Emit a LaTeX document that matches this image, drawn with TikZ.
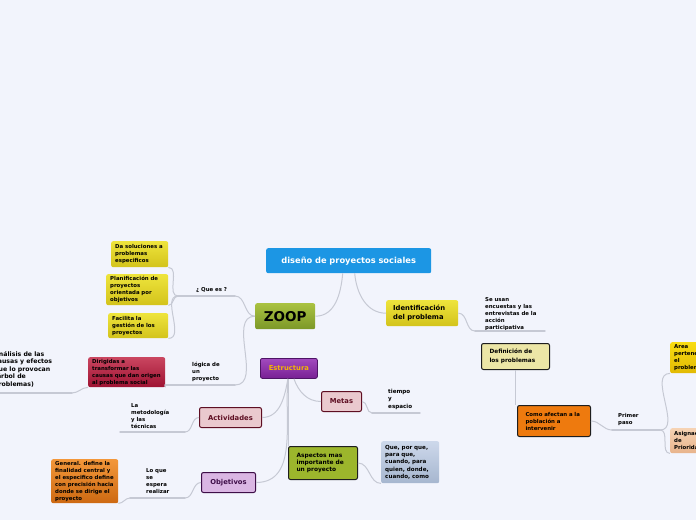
\documentclass[tikz,border=0pt]{standalone}
\usepackage{fontspec}
\setmainfont{DejaVu Sans}
\usetikzlibrary{positioning}

\definecolor{paper}{HTML}{F2F4FC}
\definecolor{linkgrey}{HTML}{C6C9D4}
\definecolor{rootblue}{HTML}{1C96E4}
\definecolor{zooptop}{HTML}{AAC241}
\definecolor{zoopbot}{HTML}{7C9828}
\definecolor{ytop}{HTML}{EEE43C}
\definecolor{ybot}{HTML}{D3C31B}
\definecolor{goldtop}{HTML}{F8DC12}
\definecolor{goldbot}{HTML}{E2BA04}
\definecolor{paleolive}{HTML}{ECE6A6}
\definecolor{orangebox}{HTML}{EE7A0E}
\definecolor{peachtop}{HTML}{F6D3B4}
\definecolor{peachbot}{HTML}{E8B38B}
\definecolor{redtop}{HTML}{CA4660}
\definecolor{redbot}{HTML}{9E1232}
\definecolor{purptop}{HTML}{A24ABE}
\definecolor{purpbot}{HTML}{782094}
\definecolor{purpline}{HTML}{4E1466}
\definecolor{goldtext}{HTML}{F2B705}
\definecolor{pinkfill}{HTML}{EAC9CE}
\definecolor{wine}{HTML}{5E0E22}
\definecolor{lavfill}{HTML}{DAB6E3}
\definecolor{plum}{HTML}{3E0E48}
\definecolor{olivebox}{HTML}{9CB62C}
\definecolor{darkline}{HTML}{1E1E1E}
\definecolor{steeltop}{HTML}{CDD8EB}
\definecolor{steelbot}{HTML}{A6B6CF}
\definecolor{ortop}{HTML}{F3973A}
\definecolor{orbot}{HTML}{CD6912}

\newcommand{\smtext}{\fontsize{5.4}{7}\selectfont}
\newcommand{\mdtext}{\fontsize{6.8}{8.6}\selectfont}

\begin{document}
\begin{tikzpicture}[x=1pt,y=1pt,font=\bfseries\smtext,
  box/.style={anchor=north west,rounded corners=2pt,align=left,inner ysep=0pt},
  ybox/.style={box,top color=ytop,bottom color=ybot},
  dbox/.style={box,draw=darkline,line width=1pt},
  pbox/.style={box,fill=pinkfill,draw=wine,line width=1pt,text=wine,font=\bfseries\mdtext,align=center,inner xsep=2pt,minimum height=20pt},
  tag/.style={anchor=north west,inner sep=0pt,align=left},
  link/.style={draw=linkgrey,line width=1pt},
  uline/.style={draw=linkgrey,line width=1.4pt,line cap=round}]
\useasboundingbox (0,0) rectangle (696,-520);
\clip (0,0) rectangle (696,-520);
\fill[paper] (0,0) rectangle (696,-520);

% centre and right side
\node[box,fill=rootblue,text=white,font=\bfseries\fontsize{8.3}{9.5}\selectfont,align=center,
      text width=157pt,inner xsep=4pt,minimum height=25pt] (root) at (266,-248) {diseño de proyectos sociales};
\node[box,top color=zooptop,bottom color=zoopbot,font=\bfseries\fontsize{13.5}{15}\selectfont,align=center,
      text width=52pt,inner xsep=4pt,minimum height=26pt] (zoop) at (255,-303) {ZOOP};
\node[ybox,font=\bfseries\mdtext,text width=58pt,inner xsep=7pt,minimum height=26pt] (ident) at (386,-300) {Identificación\\del problema};
\node[tag] (seusan) at (485,-297) {Se usan\\encuestas y las\\entrevistas de la\\acción\\participativa};
\coordinate (seusanL) at (475,-331);
\coordinate (seusanR) at (545,-331);
\node[dbox,fill=paleolive,font=\bfseries\fontsize{5.8}{8.6}\selectfont,text width=52pt,inner xsep=8pt,minimum height=26pt] (defin) at (481,-343) {Definición de\\los problemas};
\node[dbox,fill=orangebox,text width=57pt,inner xsep=8pt,minimum height=31pt] (como) at (517,-405) {Como afectan a la\\población a\\intervenir};
\node[tag] (primer) at (618,-413) {Primer\\paso};
\coordinate (primerL) at (612,-430);
\coordinate (primerR) at (660,-430);
\node[box,top color=goldtop,bottom color=goldbot,text width=44pt,inner xsep=4pt,minimum height=31pt] (area) at (670,-342) {Area\\pertenece\\el\\problema};
\node[box,top color=peachtop,bottom color=peachbot,text width=44pt,inner xsep=4pt,minimum height=25pt] (asign) at (670,-428) {Asignación\\de\\Prioridades};

% left side
\node[tag] (quees) at (196,-287) {¿ Que es ?};
\coordinate (quesL) at (178,-296);
\coordinate (quesR) at (235,-296);
\node[ybox,text width=49pt,inner xsep=4pt,minimum height=26pt] (da) at (111,-241) {Da soluciones a\\problemas\\especificos};
\node[ybox,text width=54pt,inner xsep=4pt,minimum height=31pt] (plan) at (106,-274) {Planificación de\\proyectos\\orientada por\\objetivos};
\node[ybox,text width=52pt,inner xsep=4pt,minimum height=25pt] (fac) at (108,-313) {Facilita la\\gestión de los\\proyectos};
\node[tag] (logica) at (192,-362) {lógica de\\un\\proyecto};
\coordinate (logicaL) at (165,-385);
\coordinate (logicaR) at (235,-385);
\node[box,top color=redtop,bottom color=redbot,text width=69pt,inner xsep=4pt,minimum height=30pt] (dirig) at (88,-357) {Dirigidas a\\transformar las\\causas que dan origen\\al problema social};
\node[tag,font=\bfseries\fontsize{6.2}{7.6}\selectfont] (analisis) at (-6,-351) {Análisis de las\\causas y efectos\\que lo provocan\\(árbol de\\problemas)};
\coordinate (anaL) at (-10,-393);
\coordinate (anaR) at (72,-393);

% Estructura branch
\node[box,top color=purptop,bottom color=purpbot,draw=purpline,line width=0.8pt,text=goldtext,font=\bfseries\mdtext,
      align=center,text width=51pt,inner xsep=3pt,minimum height=20pt] (estr) at (260,-358) {Estructura};
\node[pbox,text width=36pt] (metas) at (321,-391) {Metas};
\node[pbox,text width=58pt] (activ) at (199,-407) {Actividades};
\node[pbox,fill=lavfill,draw=plum,text=plum,text width=50pt] (objet) at (201,-472) {Objetivos};
\node[dbox,fill=olivebox,font=\bfseries\fontsize{5.9}{7.4}\selectfont,text width=53pt,inner xsep=8pt,minimum height=33pt] (aspec) at (288,-446) {Aspectos mas\\importante de\\un proyecto};
\node[box,top color=steeltop,bottom color=steelbot,font=\bfseries\fontsize{5.6}{7.4}\selectfont,text width=50pt,inner xsep=4pt,minimum height=42pt] (quepor) at (381,-441) {Que, por que,\\para que,\\cuando, para\\quien, donde,\\cuando, como};
\node[tag,font=\bfseries\fontsize{5.6}{7.4}\selectfont] (tiempo) at (388,-389) {tiempo\\y\\espacio};
\coordinate (tiempoL) at (372,-413);
\coordinate (tiempoR) at (420,-413);
\node[tag] (metod) at (131,-403) {La\\metodología\\y las\\técnicas};
\coordinate (metodL) at (120,-432);
\coordinate (metodR) at (185,-432);
\node[tag] (loque) at (146,-468) {Lo que\\se\\espera\\realizar};
\coordinate (loqueL) at (130,-498);
\coordinate (loqueR) at (185,-498);
\node[box,top color=ortop,bottom color=orbot,text width=59pt,inner xsep=4pt,minimum height=44pt] (general) at (51,-459) {General. define la\\finalidad central y\\el especifico define\\con precisión hacia\\donde se dirige el\\proyecto};

% connectors
\draw[link] ([xshift=-6pt]root.south) to[out=-95,in=0] (zoop.east);
\draw[link] ([xshift=6pt]root.south) to[out=-85,in=180] (ident.west);
\draw[link] (ident.east) to[out=0,in=180] (seusanL);
\draw[uline] (seusanL) -- (seusanR);
\draw[link] (defin.south) -- (defin.south |- como.north);
\draw[link] (como.east) to[out=0,in=180] (primerL);
\draw[uline] (primerL) -- (primerR);
\draw[link] (primerR) to[out=0,in=180] (area.south west);
\draw[link] (primerR) to[out=0,in=180] (asign.south west);

\draw[link] (zoop.west) to[out=180,in=0] (quesR);
\draw[uline] (quesR) -- (quesL);
\foreach \n in {da,plan,fac}
  \draw[link] (quesL) to[out=180,in=0] (\n.south east);
\draw[link] (zoop.west) to[out=180,in=0] (logicaR);
\draw[uline] (logicaR) -- (logicaL);
\draw[link] (logicaL) to[out=180,in=0] (dirig.south east);
\draw[link] (dirig.south west) to[out=180,in=0] (anaR);
\draw[uline] (anaR) -- (anaL);

\draw[link] ([xshift=5pt]estr.south) to[out=-70,in=180] (metas.west);
\draw[link] ([xshift=-1pt]estr.south) to[out=-100,in=0] (activ.east);
\draw[link] ([xshift=-1pt]estr.south) to[out=-95,in=0] (objet.east);
\draw[link] (estr.south) -- (estr.south |- aspec.north);
\draw[link] (metas.east) to[out=0,in=180] (tiempoL);
\draw[uline] (tiempoL) -- (tiempoR);
\draw[link] (activ.west) to[out=180,in=0] (metodR);
\draw[uline] (metodR) -- (metodL);
\draw[link] (objet.west) to[out=180,in=0] (loqueR);
\draw[uline] (loqueR) -- (loqueL);
\draw[link] (loqueL) to[out=180,in=0] (general.south east);
\draw[link] (aspec.east) to[out=0,in=180] (quepor.south west);
\end{tikzpicture}
\end{document}
